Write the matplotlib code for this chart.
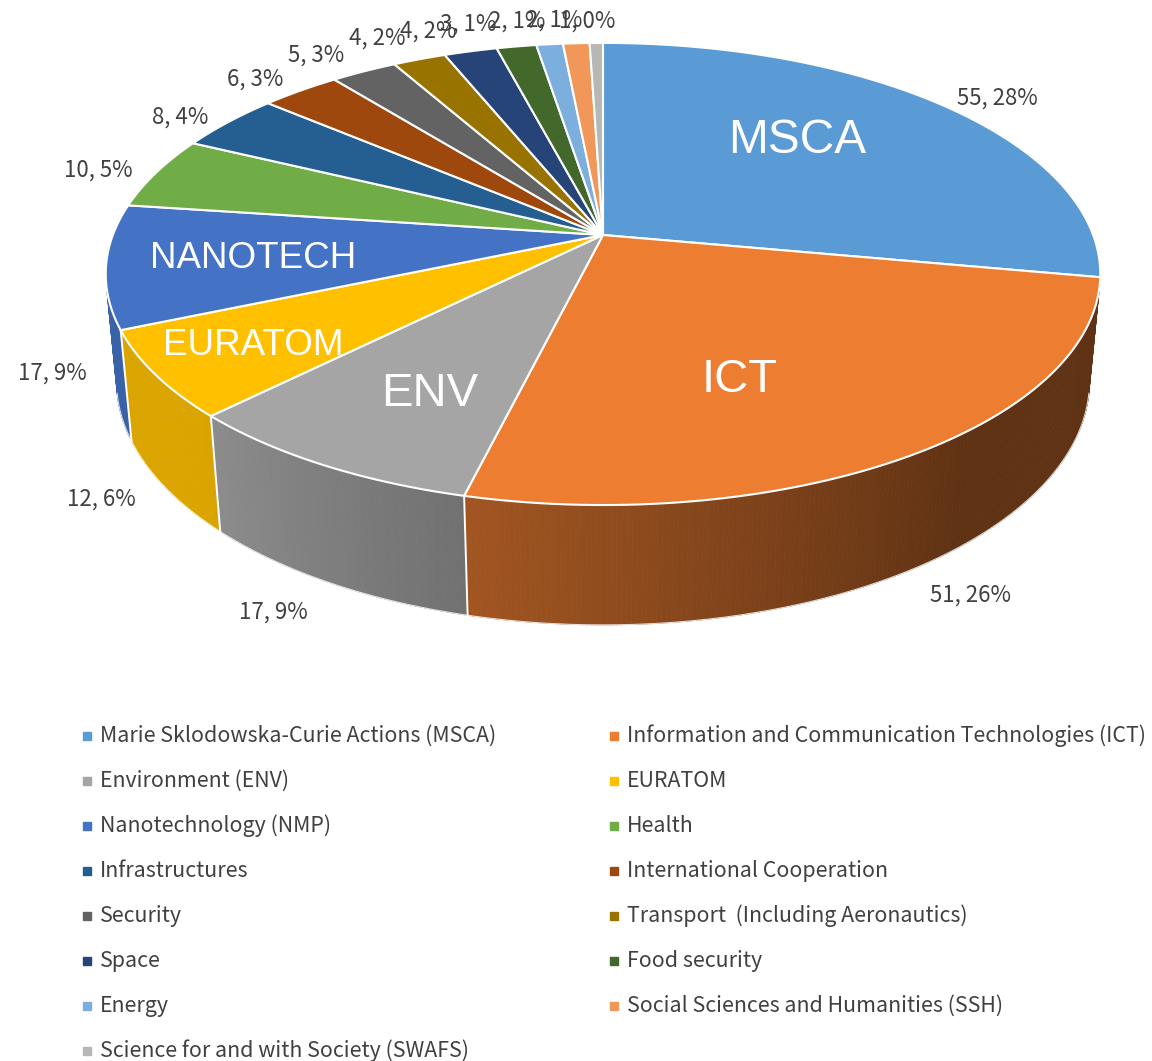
import numpy as np
import matplotlib.pyplot as plt
from matplotlib.collections import PolyCollection
from matplotlib.colors import to_rgb

# Data (clockwise from 12 o'clock)
categories = ['Marie Sklodowska-Curie Actions (MSCA)',
              'Information and Communication Technologies (ICT)',
              'Environment (ENV)', 'EURATOM', 'Nanotechnology (NMP)', 'Health',
              'Infrastructures', 'International Cooperation', 'Security',
              'Transport  (Including Aeronautics)', 'Space', 'Food security',
              'Energy', 'Social Sciences and Humanities (SSH)',
              'Science for and with Society (SWAFS)']
values = [55, 51, 17, 12, 17, 10, 8, 6, 5, 4, 4, 3, 2, 2, 1]
percents = [28, 26, 9, 6, 9, 5, 4, 3, 3, 2, 2, 1, 1, 1, 0]
short_names = ['MSCA', 'ICT', 'ENV', 'EURATOM', 'NANOTECH']
colors = ['#5B9BD5', '#ED7D31', '#A5A5A5', '#FFC000', '#4472C4', '#70AD47',
          '#255E91', '#9E480E', '#636363', '#997300', '#264478', '#43682B',
          '#7CAFDD', '#F1975A', '#B7B7B7']

# 3D pie camera (perspective) in pixel space
CX, CY = 603, 235
F, D = 2583.0, 5.27
S = 0.458
C = np.sqrt(1 - S ** 2)
H = 0.248


def project(theta, r=1.0, y=0.0):
    X = r * np.sin(theta)
    Z = r * np.cos(theta)
    depth = D - y * S + Z * C
    return CX + F * X / depth, CY - F * (y * C + Z * S) / depth


def shade(col, theta):
    f = np.clip(0.40 + (np.degrees(theta) - 140) / 85 * 0.45, 0.40, 0.86)
    return tuple(np.array(to_rgb(col)) * f)


total = sum(values)
bounds = np.concatenate([[0], np.cumsum(values)]) / total * 2 * np.pi

fig = plt.figure(figsize=(11.52, 10.61), dpi=100)
ax = fig.add_axes([0, 0, 1, 1])
ax.set_xlim(0, 1152)
ax.set_ylim(1061, 0)
ax.axis('off')

# side wall (only the part facing the camera)
th_lo = np.arccos(-1 / (D * C))
th_hi = 2 * np.pi - th_lo
quads, qcols, qdepth = [], [], []
for i in range(len(values)):
    a0, a1 = max(bounds[i], th_lo), min(bounds[i + 1], th_hi)
    if a0 >= a1:
        continue
    n = max(2, int(np.degrees(a1 - a0) / 0.5))
    ts = np.linspace(a0, a1, n + 1)
    for t0, t1 in zip(ts[:-1], ts[1:]):
        p = [project(t0), project(t1), project(t1, y=-H), project(t0, y=-H)]
        quads.append(p)
        qcols.append(shade(colors[i], (t0 + t1) / 2))
        qdepth.append(np.cos((t0 + t1) / 2))
order = np.argsort(qdepth)[::-1]
wall = PolyCollection([quads[k] for k in order],
                      facecolors=[qcols[k] for k in order],
                      edgecolors=[qcols[k] for k in order], linewidths=0.6)
ax.add_collection(wall)

# white seams on the wall
for b in bounds:
    if th_lo < b < th_hi:
        x0, y0 = project(b)
        x1, y1 = project(b, y=-H)
        ax.plot([x0, x1], [y0, y1], color='white', lw=1.4)
tb = np.linspace(th_lo, th_hi, 300)
bx, by = project(tb, y=-H)
ax.plot(bx, by, color='white', lw=0.8, alpha=0.8)

# top face
for i in range(len(values)):
    ts = np.linspace(bounds[i], bounds[i + 1], max(3, int(values[i] * 4)))
    px, py = project(ts)
    ax.fill(np.r_[CX, px], np.r_[CY, py], facecolor=colors[i],
            edgecolor='white', lw=1.5, joinstyle='round')

# names written on the big slices
name_pos = [(797, 153), (740, 392), (430, 406), (253, 355), (253, 268)]
name_size = [34.5, 34, 34, 26.5, 26.5]
for name, (x, y), fs in zip(short_names, name_pos, name_size):
    ax.text(x, y, name, color='white', fontsize=fs, family='Liberation Sans',
            ha='center', va='baseline')

# data labels outside the pie; nudges mimic Excel's spreading of crowded labels
lab_font = ['Noto Sans CJK KR', 'DejaVu Sans']
nudge = [(9, 10), (10, -4), (-6, 0), (10, 0), (12, 7), (6, 6), (3, 10),
         (-5, 7), (-17, 5), (-19, 1), (-26, 3), (-37, 1), (-26, 1), (-19, 1),
         (-8, 2)]
for i, (v, p) in enumerate(zip(values, percents)):
    mid = (bounds[i] + bounds[i + 1]) / 2
    yy = -0.88 * H if np.cos(mid) < 0 else 0.0
    x, y = project(mid, r=1.15, y=yy)
    ax.text(x + nudge[i][0], y + nudge[i][1], f'{v}, {p}%', fontsize=16,
            family=lab_font, color='#404040', ha='center', va='center')

# legend, two columns filled row by row
for i, (cat, col) in enumerate(zip(categories, colors)):
    row, c = divmod(i, 2)
    mx = [86.5, 614][c]
    ax.plot(mx, 735.5 + 45 * row, marker='s', ms=5.3, color=col, ls='')
    ax.text(mx + 13, 742 + 45 * row, cat, fontsize=15.4, family=lab_font,
            color='#404040', ha='left', va='baseline')

fig.savefig('out.png', dpi=100)
